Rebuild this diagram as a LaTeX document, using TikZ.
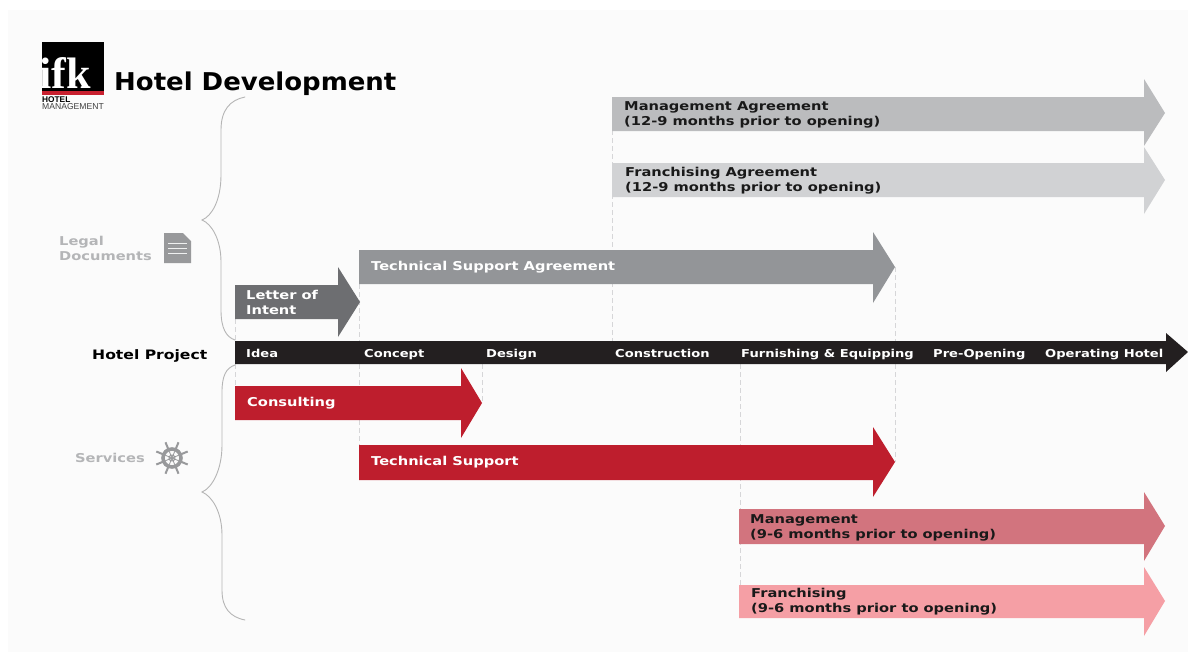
\documentclass[tikz,border=0pt]{standalone}
\usepackage{fontspec}
\setmainfont[FakeStretch=1.2]{DejaVu Sans}
\newfontfamily\titlefont[FakeStretch=1.06]{DejaVu Sans}
\newfontfamily\logoserif{Liberation Serif}
\newfontfamily\logosans{Liberation Sans}
\definecolor{pagebg}{HTML}{FBFBFB}
\definecolor{cMA}{HTML}{BBBCBE}
\definecolor{cFA}{HTML}{D1D2D4}
\definecolor{cTSA}{HTML}{939598}
\definecolor{cLOI}{HTML}{6D6E71}
\definecolor{cBar}{HTML}{231F20}
\definecolor{cRed}{HTML}{BE1E2D}
\definecolor{cMgmt}{HTML}{D2747E}
\definecolor{cFran}{HTML}{F59FA5}
\definecolor{cSide}{HTML}{B4B5B7}
\definecolor{cIcon}{HTML}{98999B}
\definecolor{cGuide}{HTML}{D6D6D8}
\definecolor{cBrace}{HTML}{B5B5B5}
\definecolor{cLogoRed}{HTML}{C8202F}
\tikzset{
  x=1pt,y=-1pt,
  lbl/.style={anchor=west,inner sep=0pt,align=left,font=\fontsize{12.2}{15}\selectfont\bfseries},
  darklbl/.style={lbl,text=black!90},
  whitelbl/.style={lbl,text=white},
  barlbl/.style={anchor=base west,inner sep=0pt,text=white,font=\fontsize{10.9}{13}\selectfont\bfseries},
  sidelbl/.style={lbl,text=cSide},
  guide/.style={draw=cGuide,line width=1pt,dash pattern=on 5pt off 3pt},
  bracel/.style={draw=cBrace,line width=0.9pt,line cap=round},
}
% #1 colour, #2 x start, #3 x head base, #4 x tip, #5 shaft top, #6 shaft bottom, #7 head top, #8 head bottom, #9 tip y
\newcommand{\bararrow}[9]{\fill[#1] (#2,#5) -- (#3,#5) -- (#3,#7) -- (#4,#9) -- (#3,#8) -- (#3,#6) -- (#2,#6) -- cycle;}
\begin{document}
\begin{tikzpicture}
\useasboundingbox (0,0) rectangle (1188,664);
\fill[white] (0,0) rectangle (1188,664);
\fill[pagebg] (8,10) rectangle (1188,652);

% guide anchors
\coordinate (gA1) at (235,319); \coordinate (gA2) at (235,341);
\coordinate (gA3) at (235,364); \coordinate (gA4) at (235,386);
\coordinate (gB1) at (359,284); \coordinate (gB2) at (359,341);
\coordinate (gB3) at (359,364); \coordinate (gB4) at (359,445);
\coordinate (gC1) at (482,364); \coordinate (gC2) at (482,403);
\coordinate (gD1) at (612,130); \coordinate (gD2) at (612,341);
\coordinate (gE1) at (895,267); \coordinate (gE2) at (895,341);
\coordinate (gE3) at (895,364); \coordinate (gE4) at (895,462);
\coordinate (gF1) at (740,364); \coordinate (gF2) at (740,585);
\foreach \a/\b in {gA1/gA2,gA3/gA4,gB1/gB2,gB3/gB4,gC1/gC2,gD1/gD2,gE1/gE2,gE3/gE4,gF1/gF2}
  \draw[guide] (\a) -- (\b);

% arrows
\bararrow{cFA}{612}{1144}{1165}{163}{197}{147}{214}{180}
\bararrow{cMA}{612}{1144}{1165}{97}{131}{79}{146}{113}
\bararrow{cTSA}{359}{873}{895}{250}{284}{232}{303}{267}
\bararrow{cLOI}{235}{338}{360}{285}{319}{267}{337}{302}
\bararrow{cBar}{235}{1166}{1188}{341}{364}{333}{372}{352}
\bararrow{cRed}{235}{461}{482}{386}{420}{368}{438}{403}
\bararrow{cRed}{359}{873}{895}{445}{480}{427}{497}{462}
\bararrow{cMgmt}{739}{1144}{1165}{509}{544}{492}{561}{526}
\bararrow{cFran}{739}{1144}{1165}{585}{618}{567}{636}{601}

% arrow labels
\node[darklbl] (tMA) at (624,115) {Management Agreement\\(12-9 months prior to opening)};
\node[darklbl] (tFA) at (625,181) {Franchising Agreement\\(12-9 months prior to opening)};
\node[whitelbl] (tTSA) at (371,267) {Technical Support Agreement};
\node[whitelbl] (tLOI) at (246,302.5) {Letter of\\Intent};
\node[whitelbl] (tCons) at (247,403) {Consulting};
\node[whitelbl] (tTS) at (371,462) {Technical Support};
\node[darklbl] (tMgmt) at (750,528) {Management\\(9-6 months prior to opening)};
\node[darklbl] (tFran) at (751,602) {Franchising\\(9-6 months prior to opening)};

% bar labels
\node[barlbl] (p1) at (246,357) {Idea};
\node[barlbl] (p2) at (364,357) {Concept};
\node[barlbl] (p3) at (486,357) {Design};
\node[barlbl] (p4) at (615,357) {Construction};
\node[barlbl] (p5) at (741,357) {Furnishing \& Equipping};
\node[barlbl] (p6) at (933,357) {Pre-Opening};
\node[barlbl] (p7) at (1045,357) {Operating Hotel};

\node[anchor=base west,inner sep=0pt,text=black,font=\fontsize{13}{15}\selectfont\bfseries] (proj) at (92,359) {Hotel Project};
\node[sidelbl] (legal) at (59,248.5) {Legal\\Documents};
\node[sidelbl] (serv) at (75,458) {Services};

% title
\node[anchor=base west,inner sep=0pt,text=black,font=\fontsize{24.5}{28}\selectfont\titlefont\bfseries] (title) at (114,90) {Hotel Development};

% logo
\fill[black] (42,42) rectangle (104,91);
\fill[cLogoRed] (42,91) rectangle (104,95);
\begin{scope}
\clip (42,42) rectangle (104,91);
\node[anchor=base west,inner sep=0pt,text=white,font=\fontsize{44}{44}\selectfont\logoserif\bfseries] (ifk) at (39,88) {ifk};
\end{scope}
\node[anchor=west,inner sep=0pt,font=\fontsize{8.3}{8.3}\selectfont\logosans\bfseries] (lhotel) at (42,100) {HOTEL};
\node[anchor=west,inner sep=0pt,font=\fontsize{8.6}{8.6}\selectfont\logosans,text=black!75] (lmgmt) at (42,107) {MANAGEMENT};

% braces
\draw[bracel] (245,97) .. controls (230,100) and (221,110) .. (221,130) -- (221,175)
  .. controls (221,200) and (212,216) .. (202,220)
  .. controls (212,224) and (221,240) .. (221,262) -- (221,310)
  .. controls (221,328) and (226,337) .. (235,340);
\draw[bracel] (235,365) .. controls (226,368) and (222,376) .. (222,392) -- (222,445)
  .. controls (222,470) and (212,488) .. (202,492)
  .. controls (212,496) and (222,512) .. (222,535) -- (222,590)
  .. controls (222,608) and (230,617) .. (245,620);

% document icon
\fill[cIcon] (164,233) -- (183,233) -- (191,241) -- (191,263) -- (164,263) -- cycle;
\draw[white!85!cIcon,line width=1.2pt] (168,243.5) -- (187,243.5) (168,248.5) -- (187,248.5) (168,253.5) -- (187,253.5);

% ship's wheel icon
\begin{scope}[shift={(172,458)}]
\draw[cIcon,line width=3.6pt] (0,0) circle (9);
\draw[cIcon,line width=1pt] (0,0) circle (3);
\foreach \a in {22.5,67.5,...,337.5} {
  \draw[cIcon,line width=0.8pt] (0,0) -- (\a:8);
  \draw[cIcon,line width=2pt] (\a:10) -- (\a:17);
}
\end{scope}
\end{tikzpicture}
\end{document}
